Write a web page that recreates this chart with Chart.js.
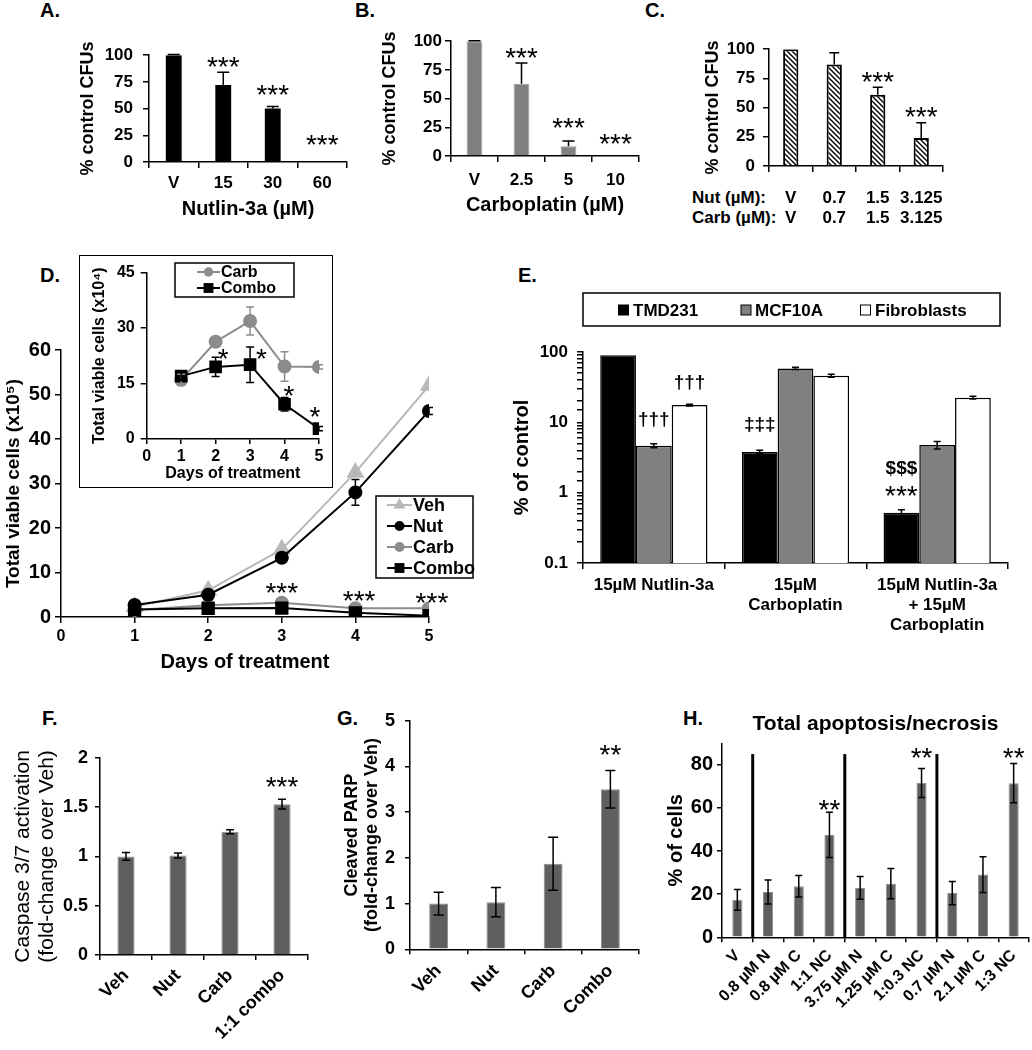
<!DOCTYPE html>
<html><head><meta charset="utf-8">
<script src="https://cdn.jsdelivr.net/npm/chart.js@4/dist/chart.umd.min.js"></script>
<style>
html,body{margin:0;padding:0;background:#fff;}
#page{position:relative;width:1032px;height:1050px;overflow:hidden;font-family:"Liberation Sans",Arial,sans-serif;background:#fff;}
.lbl{position:absolute;font-weight:bold;color:#000;white-space:nowrap;line-height:20px;}
#insetBox{position:absolute;left:79px;top:255px;width:252px;height:231px;border:1.5px solid #000;background:#fff;z-index:2;}
</style></head><body><div id="page">
<div class="lbl" style="left:40px;top:0px;font-size:20px">A.</div>
<div class="lbl" style="left:355px;top:0px;font-size:20px">B.</div>
<div class="lbl" style="left:645px;top:0px;font-size:20px">C.</div>
<div class="lbl" style="left:40px;top:265px;font-size:20px">D.</div>
<div class="lbl" style="left:518px;top:265px;font-size:20px">E.</div>
<div class="lbl" style="left:42px;top:708px;font-size:20px">F.</div>
<div class="lbl" style="left:337px;top:708px;font-size:20px">G.</div>
<div class="lbl" style="left:683px;top:708px;font-size:20px">H.</div>
<div class="lbl" style="left:692px;top:188px;font-size:17px">Nut (µM):</div>
<div class="lbl" style="left:692px;top:208px;font-size:17px">Carb (µM):</div>
<div id="insetBox"></div>
</div>
<script>
// ---------------- DATA ----------------
// Panel A
const catA = ['V', '15', '30', '60'];
const valA = [100, 72, 50, 0];
const errA = [0.6, 12, 2, 0];
const sigA = ['', '***', '***', '***'];
const sigAy = [null, 95, 69, 22];
// Panel B
const catB = ['V', '2.5', '5', '10'];
const valB = [100, 63, 8.5, 0];
const errB = [0.5, 18, 4.5, 0];
const sigB = ['', '***', '***', '***'];
const sigBy = [null, 91, 30, 16];
// Panel C
const catC = [['V', 'V'], ['0.7', '0.7'], ['1.5', '1.5'], ['3.125', '3.125']];
const valC = [100, 87, 61, 24];
const errC = [0, 10, 6.5, 13];
const sigC = ['', '', '***', '***'];
const sigCy = [null, null, 77, 47.5];
// Panel D (main, x10^5)
const days = [1, 2, 3, 4, 5];
const dVeh = [2.3, 6.0, 15.2, 32.5, 52];
const dNut = [2.7, 5.0, 13.3, 28.0, 46.3];
const dCarb = [1.6, 2.63, 3.19, 1.96, 1.95];
const dCombo = [1.7, 1.95, 2.01, 0.94, 0.28];
const eNut = [0.3, 0.5, 0.8, 2.9, 0.8];
const sigD = ['***', '***', '***'];
const sigDx = [3, 4.05, 5.04];
const sigDy = [6.7, 4.9, 4.5];
// Panel D inset (x10^4)
const insCarb = [16.0, 26.3, 31.9, 19.6, 19.5];
const insCarbErr = [1.5, 0.8, 3.8, 4.0, 0.6];
const insCombo = [17.0, 19.5, 20.1, 9.4, 2.8];
const insComboErr = [1.2, 2.6, 4.8, 1.8, 0.6];
const sigIns = ['*', '*', '*', '*'];
const sigInsX = [2.22, 3.33, 4.13, 4.88];
const sigInsY = [23.4, 23.4, 13.4, 7.6];
// Panel E
const catE = [['15µM Nutlin-3a'], ['15µM', 'Carboplatin'], ['15µM Nutlin-3a', '+ 15µM', 'Carboplatin']];
const eTMD = [90, 3.8, 0.52];
const eTMDerr = [0, 0.2, 0.05];
const eMCF = [4.65, 58.5, 4.76];
const eMCFerr = [0.3, 2, 0.6];
const eFib = [17.6, 45.9, 22.4];
const eFiberr = [0.5, 2.2, 1];
const sigE = ['†††', '†††', '‡‡‡', '$$$', '***'];
const sigEseries = [1, 2, 0, 0, 0];
const sigEgroup = [0, 0, 1, 2, 2];
const sigEy = [10.8, 36, 9.2, 2.17, 1.09];
// Panel F
const catF = ['Veh', 'Nut', 'Carb', '1:1 combo'];
const valF = [1.0, 1.01, 1.25, 1.53];
const errF = [0.04, 0.025, 0.02, 0.05];
const sigF = ['', '', '', '***'];
const sigFy = [null, null, null, 1.77];
// Panel G
const catG = ['Veh', 'Nut', 'Carb', 'Combo'];
const valG = [1.0, 1.03, 1.87, 3.5];
const errG = [0.25, 0.32, 0.58, 0.41];
const sigG = ['', '', '', '**'];
const sigGy = [null, null, null, 4.39];
// Panel H
const catH = ['V', '0.8 µM N', '0.8 µM C', '1:1 NC', '3.75 µM N', '1.25 µM C', '1:0.3 NC', '0.7 µM N', '2.1 µM C', '1:3 NC'];
const valH = [17.4, 21.0, 23.7, 47.5, 22.9, 24.9, 71.6, 20.5, 29.1, 71.5];
const errH = [4.8, 5.6, 5.0, 10.5, 5.3, 7.0, 6.7, 5.4, 8.3, 9.1];
const sigH = ['', '', '', '**', '', '', '**', '', '', '**'];
const sigHy = [null, null, null, 62.1, null, null, 86, null, null, 86];
const sepH = [0, 3, 6];      // separator after these category indices
const sepHtop = 85;

// ---------------- SETUP ----------------
const FAM = '"Liberation Sans", Arial, Helvetica, sans-serif';
Chart.defaults.font.family = FAM;
Chart.defaults.font.weight = 'bold';
Chart.defaults.font.size = 17;
Chart.defaults.color = '#000';
Chart.defaults.animation = false;
Chart.defaults.responsive = false;
Chart.defaults.maintainAspectRatio = false;
Chart.defaults.devicePixelRatio = 1;
Chart.defaults.plugins.legend.display = false;
Chart.defaults.plugins.tooltip.enabled = false;
Chart.defaults.events = [];

const STAR = 'normal 28px ' + FAM;

function offs(chart) {
  return {l: parseFloat(chart.canvas.style.left), t: parseFloat(chart.canvas.style.top)};
}

const errPlugin = {
  id: 'errbars',
  afterDatasetsDraw(chart) {
    const ctx = chart.ctx;
    chart.data.datasets.forEach((ds, di) => {
      if (!ds.errors) return;
      const meta = chart.getDatasetMeta(di);
      const ys = chart.scales[meta.yAxisID];
      ds.errors.forEach((e, i) => {
        if (!e) return;
        const raw = ds.data[i];
        const v = (typeof raw === 'object') ? raw.y : raw;
        const el = meta.data[i];
        const x = el.x;
        const y1 = ys.getPixelForValue(v + e);
        const y2 = ds.errPlus ? ys.getPixelForValue(v) : ys.getPixelForValue(v - e);
        const cw = ds.capW || 4;
        ctx.save();
        ctx.strokeStyle = ds.errColor || '#000';
        ctx.lineWidth = 1.5;
        ctx.beginPath();
        ctx.moveTo(x, y1); ctx.lineTo(x, y2);
        ctx.moveTo(x - cw, y1); ctx.lineTo(x + cw, y1);
        if (!ds.errPlus) { ctx.moveTo(x - cw, y2); ctx.lineTo(x + cw, y2); }
        ctx.stroke();
        ctx.restore();
      });
    });
  }
};

const sigPlugin = {
  id: 'sig',
  afterDatasetsDraw(chart, args, o) {
    if (!o || !o.items) return;
    const ctx = chart.ctx;
    const ys = chart.scales.y, xs = chart.scales.x;
    o.items.forEach(it => {
      if (!it.text) return;
      let x;
      if (it.x !== undefined) x = xs.getPixelForValue(it.x);
      else x = chart.getDatasetMeta(it.ds || 0).data[it.i].x;
      const y = ys.getPixelForValue(it.y);
      const font = it.font || STAR;
      const size = parseFloat(/(\d+(\.\d+)?)px/.exec(font)[1]);
      const isStar = /^\*+$/.test(it.text);
      ctx.save();
      ctx.font = font;
      ctx.textAlign = 'center';
      ctx.textBaseline = 'middle';
      ctx.fillStyle = '#000';
      ctx.fillText(it.text, x, y + (isStar ? 0.27 * size : 0));
      ctx.restore();
    });
  }
};

function drawMarker(ctx, style, r, x, y) {
  ctx.beginPath();
  if (style === 'circle') ctx.arc(x, y, r, 0, Math.PI * 2);
  else if (style === 'rect') { const s = r * Math.SQRT1_2; ctx.rect(x - s, y - s, 2 * s, 2 * s); }
  else if (style === 'triangle') { ctx.moveTo(x, y - r); ctx.lineTo(x + 0.866 * r, y + 0.5 * r); ctx.lineTo(x - 0.866 * r, y + 0.5 * r); ctx.closePath(); }
  ctx.fill();
}

const legendPlugin = {
  id: 'boxLegend',
  afterDraw(chart, args, o) {
    if (!o || !o.box) return;
    const ctx = chart.ctx;
    const off = offs(chart);
    ctx.save();
    ctx.translate(-off.l, -off.t);
    const [bx, by, bw, bh] = o.box;
    ctx.fillStyle = '#fff'; ctx.fillRect(bx, by, bw, bh);
    ctx.strokeStyle = '#000'; ctx.lineWidth = 1.5; ctx.strokeRect(bx, by, bw, bh);
    ctx.font = o.font; ctx.textBaseline = 'middle'; ctx.textAlign = 'left';
    chart.data.datasets.forEach((ds, k) => {
      const [sx, sy, tx] = o.pos[k];
      if (o.kind === 'line') {
        ctx.strokeStyle = ds.borderColor; ctx.lineWidth = ds.borderWidth || 2;
        ctx.beginPath(); ctx.moveTo(sx - o.len / 2, sy); ctx.lineTo(sx + o.len / 2, sy); ctx.stroke();
        ctx.fillStyle = ds.pointBackgroundColor;
        drawMarker(ctx, ds.pointStyle, ds.legendR, sx, sy);
      } else {
        ctx.fillStyle = ds.backgroundColor;
        ctx.fillRect(sx - 5, sy - 5, 10, 10);
        ctx.strokeStyle = '#000'; ctx.lineWidth = 1;
        ctx.strokeRect(sx - 5, sy - 5, 10, 10);
      }
      ctx.fillStyle = '#000';
      ctx.fillText(ds.label, tx, sy + 1);
    });
    ctx.restore();
  }
};

const sepPlugin = {
  id: 'seps',
  afterDatasetsDraw(chart, args, o) {
    if (!o || !o.after) return;
    const ctx = chart.ctx, xs = chart.scales.x, ys = chart.scales.y;
    ctx.save();
    ctx.strokeStyle = '#000'; ctx.lineWidth = 3;
    o.after.forEach(i => {
      const x = (xs.getPixelForValue(i) + xs.getPixelForValue(i + 1)) / 2;
      ctx.beginPath(); ctx.moveTo(x, ys.getPixelForValue(0)); ctx.lineTo(x, ys.getPixelForValue(o.top)); ctx.stroke();
    });
    ctx.restore();
  }
};

Chart.register(errPlugin, sigPlugin, legendPlugin, sepPlugin);

function hatch() {
  const c = document.createElement('canvas'); c.width = 5; c.height = 5;
  const g = c.getContext('2d');
  g.fillStyle = '#fff'; g.fillRect(0, 0, 5, 5);
  g.strokeStyle = '#000'; g.lineWidth = 1.4;
  g.beginPath();
  g.moveTo(-1, -1); g.lineTo(6, 6);
  g.moveTo(-1, 4); g.lineTo(1, 6);
  g.moveTo(4, -1); g.lineTo(6, 1);
  g.stroke();
  return g.createPattern(c, 'repeat');
}

function xAx(o) {
  const off = o.offset !== undefined ? o.offset : true;
  return {
    type: o.type || 'category',
    min: o.min, max: o.max,
    offset: off,
    grid: {display: true, drawOnChartArea: false, drawTicks: true, tickLength: o.tl, color: '#000', lineWidth: 1.5, offset: off},
    border: {display: true, color: '#000', width: 1.5},
    ticks: {font: {size: o.size, weight: 'bold', lineHeight: o.lh || 1.2}, padding: o.pad, color: '#000', autoSkip: false,
            maxRotation: o.rot || 0, minRotation: o.rot || 0, stepSize: o.step},
    title: o.title ? {display: true, text: o.title, font: {size: o.tsize, weight: 'bold', lineHeight: 1.2}, padding: {top: 0, bottom: 0}, color: '#000'} : {display: false}
  };
}
function yAx(o) {
  const t = {
    type: o.type || 'linear',
    min: o.min, max: o.max,
    grid: {display: true, drawOnChartArea: false, drawTicks: true, tickLength: o.tl, color: '#000', lineWidth: 1.5},
    border: {display: true, color: '#000', width: 1.5},
    ticks: {font: {size: o.size, weight: 'bold'}, padding: o.pad, color: '#000', stepSize: o.step, includeBounds: false, autoSkip: false},
    title: {display: true, text: o.title, font: {size: o.tsize, weight: o.tweight || 'bold', lineHeight: o.tlh || 1.2}, padding: {top: 0, bottom: 0}, color: '#000'}
  };
  if (o.callback) t.ticks.callback = o.callback;
  return t;
}

const page = document.getElementById('page');
function mk(id, rect, area, cfg) {
  const c = document.createElement('canvas');
  c.id = id; c.width = rect.r - rect.l; c.height = rect.b - rect.t;
  c.style.cssText = 'position:absolute;left:' + rect.l + 'px;top:' + rect.t + 'px;z-index:' + (rect.z || 1) + ';';
  page.appendChild(c);
  const o = cfg.options;
  o.layout = {padding: {left: 0, right: rect.r - area.x1, top: area.y0 - rect.t - (rect.titleH || 0), bottom: 0}};
  o.scales.x.afterFit = s => { s.height = rect.b - area.y1; };
  o.scales.y.afterFit = s => { s.width = area.x0 - rect.l; };
  return new Chart(c, cfg);
}
function idxItems(texts, ys, font) {
  return texts.map((t, i) => ({text: t, i: i, y: ys[i], font: font}));
}
const plainNum = v => String(+(+v).toPrecision(4));

// ---------------- PANEL A ----------------
mk('cA', {l: 77, t: 35, r: 357, b: 221}, {x0: 149, y0: 47, x1: 347, y1: 162}, {
  type: 'bar',
  data: {labels: catA, datasets: [{data: valA, errors: errA, errPlus: true, capW: 6, backgroundColor: '#000',
    barPercentage: 0.32, categoryPercentage: 1}]},
  options: {
    scales: {
      x: xAx({size: 17, tl: 6, pad: 5, title: 'Nutlin-3a (µM)', tsize: 20}),
      y: yAx({min: 0, max: 100, step: 25, size: 17, tl: 6, pad: 10, title: '% control CFUs', tsize: 18})
    },
    plugins: {sig: {items: idxItems(sigA, sigAy)}}
  }
});

// ---------------- PANEL B ----------------
mk('cB', {l: 379, t: 28, r: 650, b: 217}, {x0: 451, y0: 40, x1: 639, y1: 156}, {
  type: 'bar',
  data: {labels: catB, datasets: [{data: valB, errors: errB, errPlus: true, capW: 6, backgroundColor: '#808080',
    borderColor: '#9a9a9a', borderWidth: 1, barPercentage: 0.335, categoryPercentage: 1}]},
  options: {
    scales: {
      x: xAx({size: 17, tl: 6, pad: 8, title: 'Carboplatin (µM)', tsize: 20}),
      y: yAx({min: 0, max: 100, step: 25, size: 17, tl: 6, pad: 3, title: '% control CFUs', tsize: 18})
    },
    plugins: {sig: {items: idxItems(sigB, sigBy)}}
  }
});

// ---------------- PANEL C ----------------
mk('cC', {l: 702, t: 31, r: 960, b: 232}, {x0: 769, y0: 43, x1: 948, y1: 166}, {
  type: 'bar',
  data: {labels: catC, datasets: [{data: valC, errors: errC, errPlus: true, capW: 5, backgroundColor: hatch(),
    borderColor: '#000', borderWidth: 2, barPercentage: 0.35, categoryPercentage: 1}]},
  options: {
    scales: {
      x: xAx({size: 17, tl: 6, pad: 16, lh: 20 / 17}),
      y: yAx({min: 0, max: 100, step: 25, size: 17, tl: 6, pad: 8, title: '% control CFUs', tsize: 18})
    },
    plugins: {sig: {items: idxItems(sigC, sigCy)}}
  }
});

// ---------------- PANEL D (main) ----------------
const pts = arr => days.map((d, i) => ({x: d, y: arr[i]}));
mk('cD', {l: 2, t: 334, r: 480, b: 674}, {x0: 61, y0: 349, x1: 429, y1: 617}, {
  type: 'line',
  data: {datasets: [
    {label: 'Veh', data: pts(dVeh), borderColor: '#b8b8b8', backgroundColor: '#b8b8b8', pointBackgroundColor: '#b8b8b8',
     pointBorderColor: '#b8b8b8', borderWidth: 2, pointStyle: 'triangle', pointRadius: 8.5, legendR: 7, order: 3},
    {label: 'Nut', data: pts(dNut), errors: eNut, capW: 4, borderColor: '#000', backgroundColor: '#000', pointBackgroundColor: '#000',
     pointBorderColor: '#000', borderWidth: 2, pointStyle: 'circle', pointRadius: 6, legendR: 5, order: 1},
    {label: 'Carb', data: pts(dCarb), borderColor: '#8c8c8c', backgroundColor: '#8c8c8c', pointBackgroundColor: '#8c8c8c',
     pointBorderColor: '#8c8c8c', borderWidth: 2, pointStyle: 'circle', pointRadius: 6, legendR: 5, order: 2},
    {label: 'Combo', data: pts(dCombo), borderColor: '#000', backgroundColor: '#000', pointBackgroundColor: '#000',
     pointBorderColor: '#000', borderWidth: 2, pointStyle: 'rect', pointRadius: 8, legendR: 7, order: 0}
  ]},
  options: {
    scales: {
      x: xAx({type: 'linear', offset: false, min: 0, max: 5, step: 1, size: 16, tl: 6, pad: 4, title: 'Days of treatment', tsize: 20}),
      y: yAx({min: 0, max: 60, step: 10, size: 20, tl: 6, pad: 4, title: 'Total viable cells (x10⁵)', tsize: 19})
    },
    plugins: {
      sig: {items: sigD.map((t, i) => ({text: t, x: sigDx[i], y: sigDy[i]}))},
      boxLegend: {box: [376, 496, 97, 82], kind: 'line', len: 25, font: 'bold 18px ' + FAM,
        pos: [[399.5, 505, 413], [399.5, 526, 413], [399.5, 547, 413], [399.5, 568, 413]]}
    }
  }
});

// ---------------- PANEL D (inset) ----------------
mk('cDi', {l: 90, t: 257, r: 331, b: 483, z: 3}, {x0: 146.7, y0: 268.3, x1: 319, y1: 439}, {
  type: 'line',
  data: {datasets: [
    {label: 'Carb', data: pts(insCarb), errors: insCarbErr, errColor: '#8c8c8c', capW: 4, borderColor: '#8c8c8c', backgroundColor: '#8c8c8c',
     pointBackgroundColor: '#8c8c8c', pointBorderColor: '#8c8c8c', borderWidth: 2, pointStyle: 'circle', pointRadius: 6, legendR: 4.7, order: 1},
    {label: 'Combo', data: pts(insCombo), errors: insComboErr, capW: 4, borderColor: '#000', backgroundColor: '#000',
     pointBackgroundColor: '#000', pointBorderColor: '#000', borderWidth: 2, pointStyle: 'rect', pointRadius: 7.5, legendR: 7, order: 0}
  ]},
  options: {
    scales: {
      x: xAx({type: 'linear', offset: false, min: 0, max: 5, step: 1, size: 16, tl: 5, pad: 3.4, title: 'Days of treatment', tsize: 16}),
      y: yAx({min: 0, max: 45, step: 15, size: 16, tl: 6, pad: 6, title: 'Total viable cells (x10⁴)', tsize: 16})
    },
    plugins: {
      sig: {items: sigIns.map((t, i) => ({text: t, x: sigInsX[i], y: sigInsY[i]}))},
      boxLegend: {box: [175, 263, 119, 34], kind: 'line', len: 23, font: 'bold 16px ' + FAM,
        pos: [[208.5, 272, 221], [208.5, 288, 221]]}
    }
  }
});

// ---------------- PANEL E ----------------
const isPow10 = v => Math.abs(Math.log10(v) - Math.round(Math.log10(v))) < 1e-9;
mk('cE', {l: 510, t: 285, r: 1030, b: 640}, {x0: 583, y0: 352, x1: 1008, y1: 563}, {
  type: 'bar',
  data: {labels: catE, datasets: [
    {label: 'TMD231', data: eTMD, errors: eTMDerr, capW: 3.5, backgroundColor: '#000', borderColor: '#000', borderWidth: 1.5,
     barPercentage: 1, categoryPercentage: 0.757},
    {label: 'MCF10A', data: eMCF, errors: eMCFerr, capW: 3.5, backgroundColor: '#808080', borderColor: '#000', borderWidth: 1.5,
     barPercentage: 1, categoryPercentage: 0.757},
    {label: 'Fibroblasts', data: eFib, errors: eFiberr, capW: 3.5, backgroundColor: '#fff', borderColor: '#000', borderWidth: 1.5,
     barPercentage: 1, categoryPercentage: 0.757}
  ]},
  options: {
    scales: {
      x: xAx({size: 17, tl: 6, pad: 6, lh: 20 / 17}),
      y: yAx({type: 'logarithmic', min: 0.1, max: 100, size: 17, tl: 6, pad: 9, title: '% of control', tsize: 20,
        callback: v => isPow10(v) ? plainNum(v) : ''})
    },
    plugins: {
      sig: {items: sigE.map((t, k) => ({text: t, ds: sigEseries[k], i: sigEgroup[k], y: sigEy[k],
        font: t === '***' ? STAR : 'bold 19px ' + FAM}))},
      boxLegend: {box: [583, 293, 417, 33], kind: 'square', font: 'bold 17px ' + FAM,
        pos: [[623.5, 310, 633], [746, 310, 755], [865.5, 310, 875]]}
    }
  }
});

// ---------------- PANEL F ----------------
mk('cF', {l: 11, t: 740, r: 320, b: 1050}, {x0: 100, y0: 753, x1: 308, y1: 955}, {
  type: 'bar',
  data: {labels: catF, datasets: [{data: valF, errors: errF, capW: 4, backgroundColor: '#5f5f5f', borderColor: '#8e8e8e',
    borderWidth: 1, barPercentage: 0.33, categoryPercentage: 1}]},
  options: {
    scales: {
      x: xAx({size: 18, tl: 5, pad: 5, rot: 45}),
      y: yAx({min: 0, max: 2, step: 0.5, size: 18, tl: 5, pad: 7, title: ['Caspase 3/7 activation', '(fold-change over Veh)'],
        tsize: 21, tweight: 'normal', tlh: 1.15, callback: v => plainNum(v)})
    },
    plugins: {sig: {items: idxItems(sigF, sigFy)}}
  }
});

// ---------------- PANEL G ----------------
mk('cG', {l: 342, t: 700, r: 650, b: 1050}, {x0: 410, y0: 716, x1: 639, y1: 949.3}, {
  type: 'bar',
  data: {labels: catG, datasets: [{data: valG, errors: errG, capW: 5, backgroundColor: '#5f5f5f', borderColor: '#8e8e8e',
    borderWidth: 1, barPercentage: 0.33, categoryPercentage: 1}]},
  options: {
    scales: {
      x: xAx({size: 18, tl: 5, pad: 6, rot: 45}),
      y: yAx({min: 0, max: 5, step: 1, size: 18, tl: 5, pad: 10, title: ['Cleaved PARP', '(fold-change over Veh)'],
        tsize: 18, tlh: 1.1})
    },
    plugins: {sig: {items: idxItems(sigG, sigGy)}}
  }
});

// ---------------- PANEL H ----------------
mk('cH', {l: 664, t: 700, r: 1032, b: 1050, titleH: 31.2}, {x0: 722, y0: 743.3, x1: 1029, y1: 937.3}, {
  type: 'bar',
  data: {labels: catH, datasets: [{data: valH, errors: errH, capW: 3.5, backgroundColor: '#5f5f5f', borderColor: '#8e8e8e',
    borderWidth: 1, barPercentage: 0.33, categoryPercentage: 1}]},
  options: {
    scales: {
      x: xAx({size: 16, tl: 5, pad: 4, rot: 45}),
      y: yAx({min: 0, max: 90, step: 20, size: 20, tl: 5, pad: 4, title: '% of cells', tsize: 20})
    },
    plugins: {
      title: {display: true, text: 'Total apoptosis/necrosis', fullSize: false, color: '#000',
        font: {size: 21, weight: 'bold', lineHeight: 1.2}, padding: {top: 0, bottom: 6}},
      sig: {items: idxItems(sigH, sigHy)},
      seps: {after: sepH, top: sepHtop}
    }
  }
});
</script>
</body></html>
